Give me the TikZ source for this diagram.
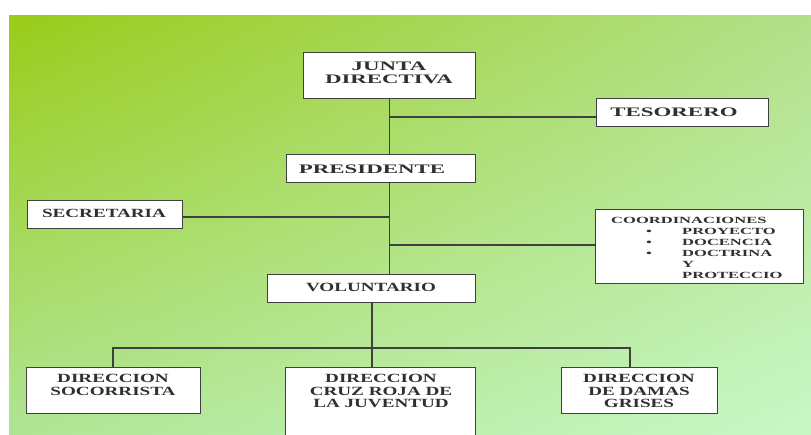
\documentclass[tikz,border=0pt]{standalone}
\usepackage{fontspec}
\setmainfont{Liberation Serif}[FakeStretch=1.76]
\newfontfamily\angosta{Liberation Serif}[FakeStretch=1.53]
\usepackage{tikz}
\usetikzlibrary{shadings}

\definecolor{lineagris}{HTML}{404040}
\definecolor{textogris}{HTML}{303030}
\definecolor{fondoA}{HTML}{9ACC1A}
\definecolor{fondoB}{HTML}{B2E08A}
\definecolor{fondoC}{HTML}{B0E494}
\definecolor{fondoD}{HTML}{C8F8C6}

\begin{document}
\begin{tikzpicture}[x=1pt, y=-1pt,
    cargo/.style ={draw=lineagris, fill=white, line width=1.3pt, inner sep=0pt, anchor=north west},
    rotulo/.style ={anchor=north, align=center, inner sep=0pt, yshift=-2.5pt, text=textogris,
                    font=\fontsize{13}{13.5}\selectfont\bfseries},
    angosto/.style ={rotulo, font=\angosta\fontsize{12.5}{12.4}\selectfont\bfseries},
    enlace/.style ={draw=lineagris, line width=1.3pt}]
   \useasboundingbox (0,0) rectangle (811,434);
   \shade[upper left=fondoA, upper right=fondoB, lower left=fondoC, lower right=fondoD]
      (9,15) rectangle (811,434);

   \node[cargo, minimum width=172pt, minimum height=46pt] (junta)      at (303,52)  {};
   \node[cargo, minimum width=172pt, minimum height=28pt] (tesorero)   at (596,98)  {};
   \node[cargo, minimum width=189pt, minimum height=28pt] (presidente) at (286,154) {};
   \node[cargo, minimum width=155pt, minimum height=28pt] (secretaria) at (27,200)  {};
   \node[cargo, minimum width=208pt, minimum height=74pt] (coord)      at (595,209) {};
   \node[cargo, minimum width=208pt, minimum height=28pt] (voluntario) at (267,274) {};
   \node[cargo, minimum width=174pt, minimum height=46pt] (socorrista) at (26,367)  {};
   \node[cargo, minimum width=190pt, minimum height=80pt] (cruzroja)   at (285,367) {};
   \node[cargo, minimum width=156pt, minimum height=46pt] (damas)      at (561,367) {};

   \node[rotulo]  (junta-t)      at (389,59)  {JUNTA\\DIRECTIVA};
   \node[rotulo]  (tesorero-t)   at (674,105) {TESORERO};
   \node[rotulo]  (presidente-t) at (372,162) {PRESIDENTE};
   \node[angosto] (secretaria-t) at (104,207) {SECRETARIA};
   \node[angosto] (voluntario-t) at (371,281) {VOLUNTARIO};
   \node[angosto] (socorrista-t) at (113,372) {DIRECCION\\SOCORRISTA};
   \node[angosto] (cruzroja-t)   at (381,372) {DIRECCION\\CRUZ ROJA DE\\LA JUVENTUD};
   \node[angosto] (damas-t)      at (639,372) {DIRECCION\\DE DAMAS\\GRISES};
   \node[rotulo, anchor=north west, align=left, font=\fontsize{9.4}{11}\selectfont\bfseries]
      (coord-t) at (611,215)
      {COORDINACIONES\\
       \makebox[71pt][l]{\hspace{35pt}\textbullet}PROYECTO\\
       \makebox[71pt][l]{\hspace{35pt}\textbullet}DOCENCIA\\
       \makebox[71pt][l]{\hspace{35pt}\textbullet}DOCTRINA\\
       \hspace{71pt}Y\\
       \hspace{71pt}PROTECCIO};

   \coordinate (t1) at (389,117);
   \coordinate (s1) at (389,217);
   \coordinate (s2) at (389,245);
   \coordinate (ramal) at (372,348);
   \coordinate (ri) at (113,348);
   \coordinate (rd) at (630,348);

   \draw[enlace] (junta.south) -- (junta.south |- presidente.north);
   \draw[enlace] (t1) -- (t1 -| tesorero.west);
   \draw[enlace] (junta.south |- presidente.south) -- (junta.south |- voluntario.north);
   \draw[enlace] (secretaria.east |- s1) -- (s1);
   \draw[enlace] (s2) -- (s2 -| coord.west);
   \draw[enlace] (ramal |- voluntario.south) -- (ramal);
   \draw[enlace] (ri |- socorrista.north) -- (ri) -- (rd) -- (rd |- damas.north);
   \draw[enlace] (ramal) -- (ramal |- cruzroja.north);
 \end{tikzpicture}
\end{document}
